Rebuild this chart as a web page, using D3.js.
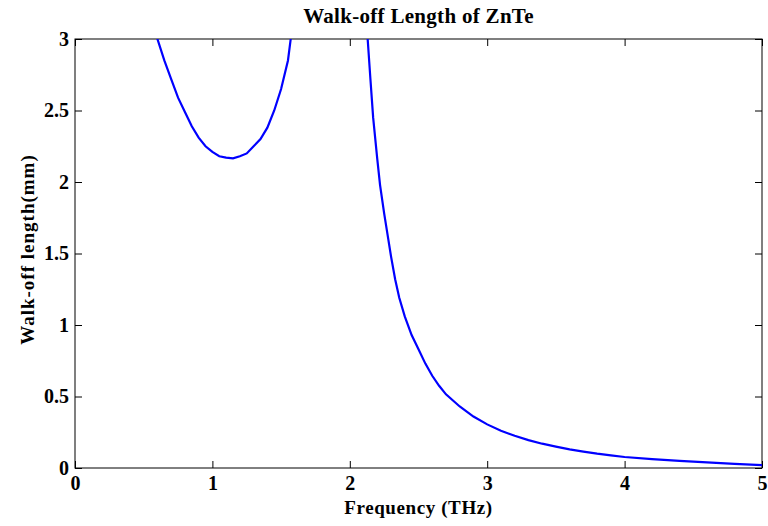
<!DOCTYPE html>
<html>
<head>
<meta charset="utf-8">
<script src="https://cdn.jsdelivr.net/npm/d3@7"></script>
<style>
  body { margin: 0; background: #fff; }
  text { font-family: "Liberation Serif", "Times New Roman", serif; fill: #000; font-weight: bold; }
</style>
</head>
<body>
<div id="chart"></div>
<script>
// Branch below the first resonance (values above 3 get clipped)
const freqLow = [0.55, 0.60, 0.65, 0.70, 0.75, 0.80, 0.85, 0.90, 0.95, 1.00, 1.05, 1.10, 1.15, 1.20, 1.25, 1.30, 1.35, 1.40, 1.45, 1.50, 1.55, 1.57, 1.60];
const walkLow = [3.25, 3.00, 2.85, 2.72, 2.59, 2.49, 2.39, 2.31, 2.25, 2.21, 2.18, 2.17, 2.165, 2.18, 2.20, 2.25, 2.30, 2.38, 2.50, 2.65, 2.85, 3.00, 3.30];

// Branch above the resonance
const freqHigh = [2.10, 2.13, 2.15, 2.17, 2.20, 2.22, 2.25, 2.28, 2.30, 2.33, 2.36, 2.40, 2.45, 2.50, 2.55, 2.60, 2.65, 2.70, 2.80, 2.90, 3.00, 3.10, 3.20, 3.30, 3.40, 3.50, 3.60, 3.70, 3.80, 3.90, 4.00, 4.20, 4.40, 4.60, 4.80, 5.00];
const walkHigh = [3.40, 3.00, 2.72, 2.45, 2.16, 1.98, 1.78, 1.60, 1.48, 1.32, 1.19, 1.06, 0.93, 0.83, 0.73, 0.645, 0.575, 0.515, 0.43, 0.36, 0.305, 0.26, 0.225, 0.195, 0.17, 0.15, 0.13, 0.115, 0.10, 0.088, 0.077, 0.062, 0.050, 0.039, 0.029, 0.020];

const xTicks = [0, 1, 2, 3, 4, 5];
const yTicks = [0, 0.5, 1, 1.5, 2, 2.5, 3];

const W = 768, H = 526;
const margin = { top: 39, right: 6, bottom: 58, left: 75 };
const width = W - margin.left - margin.right;
const height = H - margin.top - margin.bottom;

const svg = d3.select("#chart").append("svg")
  .attr("width", W)
  .attr("height", H);

const g = svg.append("g")
  .attr("transform", `translate(${margin.left},${margin.top})`);

const x = d3.scaleLinear().domain([0, 5]).range([0, width]);
const y = d3.scaleLinear().domain([0, 3]).range([height, 0]);

svg.append("defs").append("clipPath")
  .attr("id", "plot-clip")
  .append("rect")
  .attr("width", width)
  .attr("height", height);

// axes with inward ticks, MATLAB style box
const tickLen = 7;
g.append("g")
  .attr("transform", `translate(0,${height})`)
  .call(d3.axisBottom(x).tickValues(xTicks).tickSizeInner(-tickLen).tickSizeOuter(0).tickPadding(8).tickFormat(d3.format("d")))
  .call(a => a.select(".domain").remove())
  .selectAll("text").style("font-size", "20px");

g.append("g")
  .call(d3.axisTop(x).tickValues(xTicks).tickSizeInner(-tickLen).tickSizeOuter(0).tickFormat(""))
  .call(a => a.select(".domain").remove());

g.append("g")
  .call(d3.axisLeft(y).tickValues(yTicks).tickSizeInner(-tickLen).tickSizeOuter(0).tickPadding(6).tickFormat(d => d))
  .call(a => a.select(".domain").remove())
  .selectAll("text").style("font-size", "20px");

g.append("g")
  .attr("transform", `translate(${width},0)`)
  .call(d3.axisRight(y).tickValues(yTicks).tickSizeInner(-tickLen).tickSizeOuter(0).tickFormat(""))
  .call(a => a.select(".domain").remove());

g.selectAll(".tick line").attr("stroke", "#000");

g.append("rect")
  .attr("width", width)
  .attr("height", height)
  .attr("fill", "none")
  .attr("stroke", "#000")
  .attr("stroke-width", 1);

const line = d3.line()
  .x(d => x(d[0]))
  .y(d => y(d[1]));

const branches = [d3.zip(freqLow, walkLow), d3.zip(freqHigh, walkHigh)];

g.append("g")
  .attr("clip-path", "url(#plot-clip)")
  .selectAll("path")
  .data(branches)
  .join("path")
  .attr("fill", "none")
  .attr("stroke", "#0000ff")
  .attr("stroke-width", 2.2)
  .attr("d", line);

// title and labels
svg.append("text")
  .attr("x", margin.left + width / 2)
  .attr("y", 23)
  .attr("text-anchor", "middle")
  .style("font-size", "21px")
  .style("letter-spacing", "0.3px")
  .text("Walk-off Length of ZnTe");

svg.append("text")
  .attr("x", margin.left + width / 2)
  .attr("y", 514)
  .attr("text-anchor", "middle")
  .style("font-size", "19px")
  .style("letter-spacing", "0.6px")
  .text("Frequency (THz)");

svg.append("text")
  .attr("transform", `translate(34,${margin.top + height / 2 - 4}) rotate(-90)`)
  .attr("text-anchor", "middle")
  .style("font-size", "19px")
  .style("letter-spacing", "1px")
  .text("Walk-off length(mm)");
</script>
</body>
</html>
